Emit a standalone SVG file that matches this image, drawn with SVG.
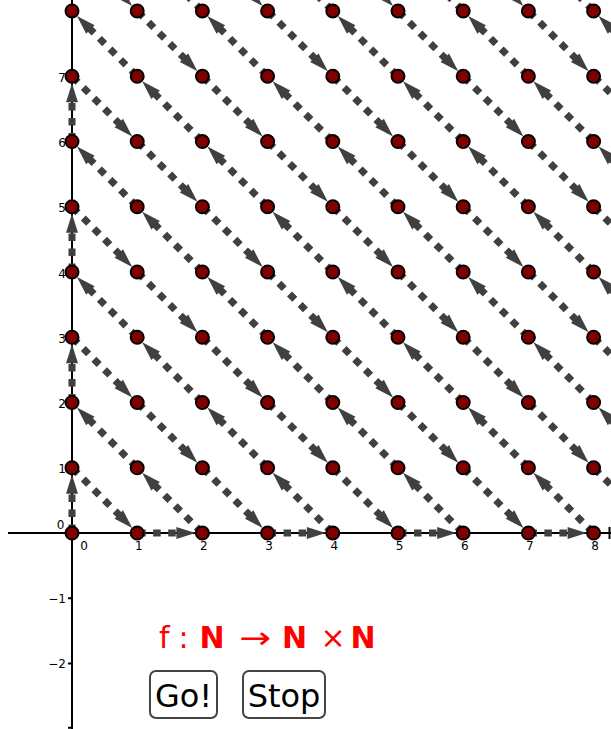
<svg xmlns="http://www.w3.org/2000/svg" xmlns:xlink="http://www.w3.org/1999/xlink" width="611" height="729" viewBox="0 0 611 729">
<style>
.ax{stroke:#000;stroke-width:2;fill:none}
.lbl{font-family:"DejaVu Sans",sans-serif;font-size:12px;fill:#000}
.c{stroke:#404040;stroke-width:7;stroke-dasharray:7.5 7.5;stroke-dashoffset:-1;fill:none;marker-end:url(#ah)}
.pt{fill:#800000;stroke:#000;stroke-width:2}
.btn{fill:#fff;stroke:#444;stroke-width:2}
.bt{font-family:"DejaVu Sans",sans-serif;font-size:32px;fill:#000;text-anchor:middle}
.tt{font-family:"DejaVu Sans",sans-serif;font-size:30px;fill:#ff0000}
</style>
<defs>
<marker id="ah" markerUnits="userSpaceOnUse" markerWidth="30" markerHeight="20" refX="2" refY="6" orient="auto" overflow="visible">
<path d="M0,0 L19,6 L0,12 Z" fill="#404040"/>
</marker>
<line id="dr" class="c" x1="0" y1="0" x2="48.21" y2="48.26"/>
<line id="ul" class="c" x1="0" y1="0" x2="-48.21" y2="-48.26"/>
<line id="h" class="c" x1="0" y1="0" x2="41.2" y2="0"/>
<line id="v" class="c" x1="0" y1="0" x2="0" y2="-41.25"/>
</defs>
<rect width="611" height="729" fill="#fff"/>
<g id="axes">
<line class="ax" x1="8" y1="533" x2="611" y2="533"/>
<line class="ax" x1="72" y1="0" x2="72" y2="729"/>
<path class="ax" d="M68,598.25H72M68,663.5H72M68,727.75H72M609.5,527V539"/>
<g class="lbl" text-anchor="middle">
<text x="84" y="550">0</text><text x="138.7" y="550">1</text><text x="203.9" y="550">2</text><text x="269.1" y="550">3</text><text x="334.3" y="550">4</text><text x="399.5" y="550">5</text><text x="464.7" y="550">6</text><text x="529.9" y="550">7</text><text x="595.1" y="550">8</text>
</g>
<g class="lbl" text-anchor="end">
<text x="64.5" y="529">0</text><text x="66" y="473.25">1</text><text x="66" y="408">2</text><text x="66" y="342.75">3</text><text x="66" y="277.5">4</text><text x="66" y="212.25">5</text><text x="66" y="147">6</text><text x="66" y="81.75">7</text>
<text x="66" y="602.5">−1</text><text x="66" y="667.5">−2</text>
</g>
</g>
<g id="connectors">
<use href="#v" x="72" y="533"/><use href="#v" x="72" y="402.5"/><use href="#v" x="72" y="272"/><use href="#v" x="72" y="141.5"/>
<use href="#h" x="137.2" y="533"/><use href="#h" x="267.6" y="533"/><use href="#h" x="398" y="533"/><use href="#h" x="528.4" y="533"/>
<use href="#dr" x="72" y="467.75"/>
<use href="#dr" x="72" y="337.25"/><use href="#dr" x="137.2" y="402.5"/><use href="#dr" x="202.4" y="467.75"/>
<use href="#dr" x="72" y="206.75"/><use href="#dr" x="137.2" y="272"/><use href="#dr" x="202.4" y="337.25"/><use href="#dr" x="267.6" y="402.5"/><use href="#dr" x="332.8" y="467.75"/>
<use href="#dr" x="72" y="76.25"/><use href="#dr" x="137.2" y="141.5"/><use href="#dr" x="202.4" y="206.75"/><use href="#dr" x="267.6" y="272"/><use href="#dr" x="332.8" y="337.25"/><use href="#dr" x="398" y="402.5"/><use href="#dr" x="463.2" y="467.75"/>
<use href="#dr" x="72" y="-54.25"/><use href="#dr" x="137.2" y="11"/><use href="#dr" x="202.4" y="76.25"/><use href="#dr" x="267.6" y="141.5"/><use href="#dr" x="332.8" y="206.75"/><use href="#dr" x="398" y="272"/><use href="#dr" x="463.2" y="337.25"/><use href="#dr" x="528.4" y="402.5"/><use href="#dr" x="593.6" y="467.75"/>
<use href="#dr" x="202.4" y="-54.25"/><use href="#dr" x="267.6" y="11"/><use href="#dr" x="332.8" y="76.25"/><use href="#dr" x="398" y="141.5"/><use href="#dr" x="463.2" y="206.75"/><use href="#dr" x="528.4" y="272"/><use href="#dr" x="593.6" y="337.25"/>
<use href="#dr" x="332.8" y="-54.25"/><use href="#dr" x="398" y="11"/><use href="#dr" x="463.2" y="76.25"/><use href="#dr" x="528.4" y="141.5"/><use href="#dr" x="593.6" y="206.75"/>
<use href="#dr" x="463.2" y="-54.25"/><use href="#dr" x="528.4" y="11"/><use href="#dr" x="593.6" y="76.25"/>
<use href="#ul" x="137.2" y="467.75"/><use href="#ul" x="202.4" y="533"/>
<use href="#ul" x="137.2" y="337.25"/><use href="#ul" x="202.4" y="402.5"/><use href="#ul" x="267.6" y="467.75"/><use href="#ul" x="332.8" y="533"/>
<use href="#ul" x="137.2" y="206.75"/><use href="#ul" x="202.4" y="272"/><use href="#ul" x="267.6" y="337.25"/><use href="#ul" x="332.8" y="402.5"/><use href="#ul" x="398" y="467.75"/><use href="#ul" x="463.2" y="533"/>
<use href="#ul" x="137.2" y="76.25"/><use href="#ul" x="202.4" y="141.5"/><use href="#ul" x="267.6" y="206.75"/><use href="#ul" x="332.8" y="272"/><use href="#ul" x="398" y="337.25"/><use href="#ul" x="463.2" y="402.5"/><use href="#ul" x="528.4" y="467.75"/><use href="#ul" x="593.6" y="533"/>
<use href="#ul" x="202.4" y="11"/><use href="#ul" x="267.6" y="76.25"/><use href="#ul" x="332.8" y="141.5"/><use href="#ul" x="398" y="206.75"/><use href="#ul" x="463.2" y="272"/><use href="#ul" x="528.4" y="337.25"/><use href="#ul" x="593.6" y="402.5"/><use href="#ul" x="658.8" y="467.75"/>
<use href="#ul" x="332.8" y="11"/><use href="#ul" x="398" y="76.25"/><use href="#ul" x="463.2" y="141.5"/><use href="#ul" x="528.4" y="206.75"/><use href="#ul" x="593.6" y="272"/><use href="#ul" x="658.8" y="337.25"/>
<use href="#ul" x="463.2" y="11"/><use href="#ul" x="528.4" y="76.25"/><use href="#ul" x="593.6" y="141.5"/><use href="#ul" x="658.8" y="206.75"/>
<use href="#ul" x="593.6" y="11"/><use href="#ul" x="658.8" y="76.25"/>
</g>
<g id="nodes">
<g id="p0_0"><circle class="pt" cx="72" cy="533" r="6.5"/></g><g id="p1_0"><circle class="pt" cx="137.2" cy="533" r="6.5"/></g><g id="p2_0"><circle class="pt" cx="202.4" cy="533" r="6.5"/></g><g id="p3_0"><circle class="pt" cx="267.6" cy="533" r="6.5"/></g><g id="p4_0"><circle class="pt" cx="332.8" cy="533" r="6.5"/></g><g id="p5_0"><circle class="pt" cx="398" cy="533" r="6.5"/></g><g id="p6_0"><circle class="pt" cx="463.2" cy="533" r="6.5"/></g><g id="p7_0"><circle class="pt" cx="528.4" cy="533" r="6.5"/></g><g id="p8_0"><circle class="pt" cx="593.6" cy="533" r="6.5"/></g>
<g id="p0_1"><circle class="pt" cx="72" cy="467.75" r="6.5"/></g><g id="p1_1"><circle class="pt" cx="137.2" cy="467.75" r="6.5"/></g><g id="p2_1"><circle class="pt" cx="202.4" cy="467.75" r="6.5"/></g><g id="p3_1"><circle class="pt" cx="267.6" cy="467.75" r="6.5"/></g><g id="p4_1"><circle class="pt" cx="332.8" cy="467.75" r="6.5"/></g><g id="p5_1"><circle class="pt" cx="398" cy="467.75" r="6.5"/></g><g id="p6_1"><circle class="pt" cx="463.2" cy="467.75" r="6.5"/></g><g id="p7_1"><circle class="pt" cx="528.4" cy="467.75" r="6.5"/></g><g id="p8_1"><circle class="pt" cx="593.6" cy="467.75" r="6.5"/></g>
<g id="p0_2"><circle class="pt" cx="72" cy="402.5" r="6.5"/></g><g id="p1_2"><circle class="pt" cx="137.2" cy="402.5" r="6.5"/></g><g id="p2_2"><circle class="pt" cx="202.4" cy="402.5" r="6.5"/></g><g id="p3_2"><circle class="pt" cx="267.6" cy="402.5" r="6.5"/></g><g id="p4_2"><circle class="pt" cx="332.8" cy="402.5" r="6.5"/></g><g id="p5_2"><circle class="pt" cx="398" cy="402.5" r="6.5"/></g><g id="p6_2"><circle class="pt" cx="463.2" cy="402.5" r="6.5"/></g><g id="p7_2"><circle class="pt" cx="528.4" cy="402.5" r="6.5"/></g><g id="p8_2"><circle class="pt" cx="593.6" cy="402.5" r="6.5"/></g>
<g id="p0_3"><circle class="pt" cx="72" cy="337.25" r="6.5"/></g><g id="p1_3"><circle class="pt" cx="137.2" cy="337.25" r="6.5"/></g><g id="p2_3"><circle class="pt" cx="202.4" cy="337.25" r="6.5"/></g><g id="p3_3"><circle class="pt" cx="267.6" cy="337.25" r="6.5"/></g><g id="p4_3"><circle class="pt" cx="332.8" cy="337.25" r="6.5"/></g><g id="p5_3"><circle class="pt" cx="398" cy="337.25" r="6.5"/></g><g id="p6_3"><circle class="pt" cx="463.2" cy="337.25" r="6.5"/></g><g id="p7_3"><circle class="pt" cx="528.4" cy="337.25" r="6.5"/></g><g id="p8_3"><circle class="pt" cx="593.6" cy="337.25" r="6.5"/></g>
<g id="p0_4"><circle class="pt" cx="72" cy="272" r="6.5"/></g><g id="p1_4"><circle class="pt" cx="137.2" cy="272" r="6.5"/></g><g id="p2_4"><circle class="pt" cx="202.4" cy="272" r="6.5"/></g><g id="p3_4"><circle class="pt" cx="267.6" cy="272" r="6.5"/></g><g id="p4_4"><circle class="pt" cx="332.8" cy="272" r="6.5"/></g><g id="p5_4"><circle class="pt" cx="398" cy="272" r="6.5"/></g><g id="p6_4"><circle class="pt" cx="463.2" cy="272" r="6.5"/></g><g id="p7_4"><circle class="pt" cx="528.4" cy="272" r="6.5"/></g><g id="p8_4"><circle class="pt" cx="593.6" cy="272" r="6.5"/></g>
<g id="p0_5"><circle class="pt" cx="72" cy="206.75" r="6.5"/></g><g id="p1_5"><circle class="pt" cx="137.2" cy="206.75" r="6.5"/></g><g id="p2_5"><circle class="pt" cx="202.4" cy="206.75" r="6.5"/></g><g id="p3_5"><circle class="pt" cx="267.6" cy="206.75" r="6.5"/></g><g id="p4_5"><circle class="pt" cx="332.8" cy="206.75" r="6.5"/></g><g id="p5_5"><circle class="pt" cx="398" cy="206.75" r="6.5"/></g><g id="p6_5"><circle class="pt" cx="463.2" cy="206.75" r="6.5"/></g><g id="p7_5"><circle class="pt" cx="528.4" cy="206.75" r="6.5"/></g><g id="p8_5"><circle class="pt" cx="593.6" cy="206.75" r="6.5"/></g>
<g id="p0_6"><circle class="pt" cx="72" cy="141.5" r="6.5"/></g><g id="p1_6"><circle class="pt" cx="137.2" cy="141.5" r="6.5"/></g><g id="p2_6"><circle class="pt" cx="202.4" cy="141.5" r="6.5"/></g><g id="p3_6"><circle class="pt" cx="267.6" cy="141.5" r="6.5"/></g><g id="p4_6"><circle class="pt" cx="332.8" cy="141.5" r="6.5"/></g><g id="p5_6"><circle class="pt" cx="398" cy="141.5" r="6.5"/></g><g id="p6_6"><circle class="pt" cx="463.2" cy="141.5" r="6.5"/></g><g id="p7_6"><circle class="pt" cx="528.4" cy="141.5" r="6.5"/></g><g id="p8_6"><circle class="pt" cx="593.6" cy="141.5" r="6.5"/></g>
<g id="p0_7"><circle class="pt" cx="72" cy="76.25" r="6.5"/></g><g id="p1_7"><circle class="pt" cx="137.2" cy="76.25" r="6.5"/></g><g id="p2_7"><circle class="pt" cx="202.4" cy="76.25" r="6.5"/></g><g id="p3_7"><circle class="pt" cx="267.6" cy="76.25" r="6.5"/></g><g id="p4_7"><circle class="pt" cx="332.8" cy="76.25" r="6.5"/></g><g id="p5_7"><circle class="pt" cx="398" cy="76.25" r="6.5"/></g><g id="p6_7"><circle class="pt" cx="463.2" cy="76.25" r="6.5"/></g><g id="p7_7"><circle class="pt" cx="528.4" cy="76.25" r="6.5"/></g><g id="p8_7"><circle class="pt" cx="593.6" cy="76.25" r="6.5"/></g>
<g id="p0_8"><circle class="pt" cx="72" cy="11" r="6.5"/></g><g id="p1_8"><circle class="pt" cx="137.2" cy="11" r="6.5"/></g><g id="p2_8"><circle class="pt" cx="202.4" cy="11" r="6.5"/></g><g id="p3_8"><circle class="pt" cx="267.6" cy="11" r="6.5"/></g><g id="p4_8"><circle class="pt" cx="332.8" cy="11" r="6.5"/></g><g id="p5_8"><circle class="pt" cx="398" cy="11" r="6.5"/></g><g id="p6_8"><circle class="pt" cx="463.2" cy="11" r="6.5"/></g><g id="p7_8"><circle class="pt" cx="528.4" cy="11" r="6.5"/></g><g id="p8_8"><circle class="pt" cx="593.6" cy="11" r="6.5"/></g>
</g>
<g id="title">
<text class="tt" y="648"><tspan x="159">f</tspan><tspan x="178.5">:</tspan><tspan x="199.5" font-weight="bold">N</tspan></text>
<text class="tt" x="239" y="648" textLength="32" lengthAdjust="spacingAndGlyphs">→</text>
<text class="tt" y="648"><tspan x="282" font-weight="bold">N</tspan><tspan x="320.5">×</tspan><tspan x="350.5" font-weight="bold">N</tspan></text>
</g>
<g id="btn_go"><rect class="btn" x="150" y="671" width="67" height="47" rx="6"/><text class="bt" x="183.5" y="707">Go!</text></g>
<g id="btn_stop"><rect class="btn" x="243" y="671" width="82" height="47" rx="6"/><text class="bt" x="284" y="707">Stop</text></g>
</svg>
